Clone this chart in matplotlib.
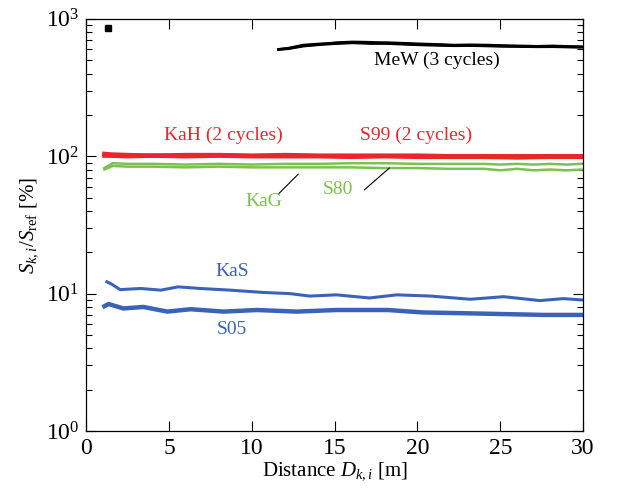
import numpy as np
import matplotlib.pyplot as plt

plt.rcParams['font.family'] = ['Liberation Serif', 'DejaVu Serif']
plt.rcParams['mathtext.fontset'] = 'custom'
plt.rcParams['mathtext.rm'] = 'Liberation Serif'
plt.rcParams['mathtext.it'] = 'Liberation Serif:italic'

RED = '#e8262d'
GREEN = '#7cc14f'
BLUE = '#3a63b8'

# MeW, three cycles (black)
mew_x = [11.6, 12.2, 13.1, 14.1, 15.1, 16.1, 17.2, 18.2, 19.2, 20.2, 21.2, 22.2, 23.2, 24.2, 25.2, 26.2, 27.2, 28.2, 29.2, 29.9]
mew_c1 = [600, 612, 645, 658, 665, 672, 668, 672, 665, 658, 652, 645, 648, 645, 640, 636, 632, 636, 630, 628]
mew_c2 = [600, 608, 638, 652, 672, 680, 676, 665, 658, 650, 648, 640, 642, 638, 634, 630, 628, 630, 626, 624]
mew_c3 = [598, 605, 632, 648, 660, 668, 660, 660, 652, 645, 640, 636, 638, 634, 630, 628, 625, 626, 622, 620]

# KaH / S99 (red, 2 cycles each, overlapping)
red_x = [1.1, 1.5, 2.5, 4, 6, 8, 10, 12, 14, 16, 18, 20, 22, 24, 26, 28, 29.9]
kah = [104, 103, 102, 101, 102, 102, 101, 102, 101, 101, 101, 101, 100, 100, 100, 100, 100]
s99 = [101, 101, 100, 101, 100, 101, 100, 100, 100, 99, 100, 99, 99, 99, 98, 99, 99]

# KaG / S80 (green)
grn_x = [1.1, 1.6, 2.5, 4, 6, 8, 10, 12, 14, 16, 18, 20, 22, 24, 25, 26, 27, 28, 29, 29.9]
s80 = [82, 89, 88, 88, 87, 88, 87, 88, 88, 89, 89, 88, 88, 88, 87, 88, 87, 88, 87, 88]
kag = [80, 85, 84, 84, 83, 84, 83, 83, 83, 83, 82, 82, 81, 81, 79, 81, 79, 80, 79, 80]

# KaS / S05 (blue)
kas_x = [1.25, 1.55, 2.05, 3.3, 4.5, 5.55, 6.9, 8.7, 10.7, 12.3, 13.5, 15.1, 17.1, 18.75, 20.8, 23.2, 25.2, 27.4, 28.8, 29.9]
kas = [12.2, 11.7, 10.7, 10.9, 10.6, 11.2, 10.9, 10.6, 10.2, 10.0, 9.6, 9.8, 9.3, 9.8, 9.6, 9.1, 9.5, 8.9, 9.2, 9.0]
s05_x = [1.1, 1.35, 2.25, 3.45, 4.9, 6.3, 8.3, 10.3, 12.7, 15.1, 18.2, 20.3, 22.8, 25.2, 27.6, 29.9]
s05 = [8.1, 8.4, 7.8, 8.0, 7.4, 7.7, 7.4, 7.6, 7.4, 7.6, 7.6, 7.3, 7.2, 7.1, 7.0, 7.0]

fig = plt.figure(figsize=(6.29, 4.96), dpi=100)
ax = fig.add_axes([0.137, 0.131, 0.790, 0.831])

for c in (mew_c1, mew_c2, mew_c3):
    ax.plot(mew_x, c, color='black', lw=1.8)
ax.plot([1.3], [860], 's', color='black', ms=4)

ax.plot(red_x, kah, color=RED, lw=3.2)
ax.plot(red_x, s99, color=RED, lw=3.2)
ax.plot(grn_x, s80, color=GREEN, lw=1.8)
ax.plot(grn_x, kag, color=GREEN, lw=1.8)
ax.plot(kas_x, kas, color=BLUE, lw=2.2)
ax.plot(s05_x, s05, color=BLUE, lw=3.2)

fs = 14
ax.text(21.2, 500, 'MeW (3 cycles)', color='black', fontsize=fs, ha='center', va='center')
ax.text(8.3, 143, 'KaH (2 cycles)', color=RED, fontsize=fs, ha='center', va='center')
ax.text(19.9, 143, 'S99 (2 cycles)', color=RED, fontsize=fs, ha='center', va='center')
ax.text(10.7, 47, 'KaG', color=GREEN, fontsize=fs, ha='center', va='center')
ax.text(15.2, 57, 'S80', color=GREEN, fontsize=fs, ha='center', va='center')
ax.text(8.8, 14.4, 'KaS', color=BLUE, fontsize=fs, ha='center', va='center')
ax.text(8.8, 5.5, 'S05', color=BLUE, fontsize=fs, ha='center', va='center')

# leader lines
ax.plot([11.6, 12.8], [53, 74], color='black', lw=0.8)
ax.plot([16.8, 18.3], [57, 82], color='black', lw=0.8)

ax.set_yscale('log')
ax.set_xlim(0, 30)
ax.set_ylim(1, 1000)
ax.set_xticks([0, 5, 10, 15, 20, 25, 30])
ax.tick_params(which='both', direction='in', top=True, right=True, labelsize=17)
ax.tick_params(which='major', length=7, width=0.8, pad=5)
ax.tick_params(which='minor', length=4, width=0.8)
for s in ax.spines.values():
    s.set_linewidth(0.9)

ax.set_xlabel('Distance $D_{k,i}$ [m]', fontsize=15, labelpad=1)
ax.set_ylabel('$S_{k,i}$/$S_{\\mathrm{ref}}$ [%]', fontsize=15, labelpad=4)

fig.savefig('out.png', dpi=100)
